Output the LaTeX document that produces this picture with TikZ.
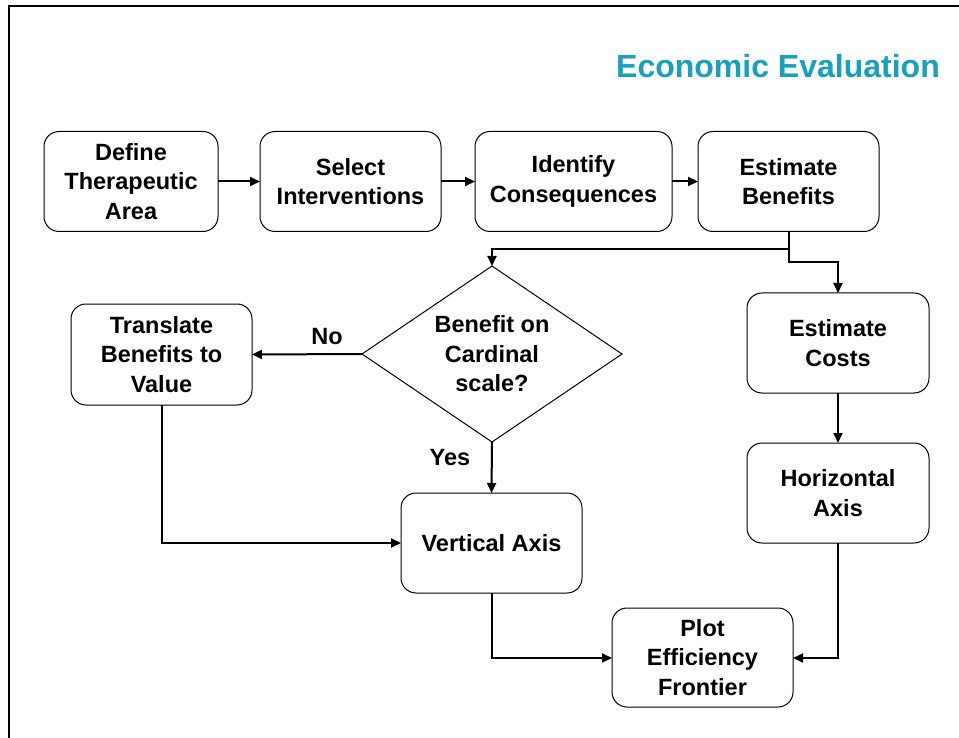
\documentclass[tikz,border=0pt]{standalone}
\usepackage{fontspec}
\setmainfont{Liberation Sans}
\usetikzlibrary{shapes.geometric,arrows.meta}
\definecolor{titleteal}{RGB}{23,160,192}
\begin{document}
\begin{tikzpicture}[x=1pt,y=-1pt,
  box/.style={draw=black,line width=1pt,rounded corners=15pt,align=center,
    inner sep=0pt,outer sep=0pt,minimum height=100pt,
    font=\bfseries\fontsize{23.5}{29.5}\selectfont},
  decision/.style={draw=black,line width=1pt,shape=diamond,aspect=1.48,
    inner sep=0pt,outer sep=0pt,minimum width=260pt,minimum height=176pt,align=center,
    font=\bfseries\fontsize{23.5}{29.5}\selectfont},
  conn/.style={line width=2pt,-{Triangle[length=10pt,width=9pt]}},
  lbl/.style={font=\bfseries\fontsize{23.5}{28}\selectfont,inner sep=0pt}]
\useasboundingbox (0,0) rectangle (959,738);
\fill[white] (0,0) rectangle (959,738);
\draw[line width=2pt] (9,738) -- (9,6) -- (959,6);

\node[font=\bfseries\fontsize{32}{38}\selectfont,text=titleteal] (title) at (778,66) {Economic Evaluation};

\node[box,minimum width=174pt] (def) at (131,181.5) {Define\\Therapeutic\\Area};
\node[box,minimum width=181pt] (sel) at (350.5,181.5) {Select\\Interventions};
\node[box,minimum width=197pt] (ide) at (573.5,181.5) {Identify\\Consequences};
\node[box,minimum width=181pt] (eben) at (788.5,181.5) {Estimate\\Benefits};

\node[decision] (dia) at (492,354) {Benefit on\\Cardinal\\scale?};
\node[box,minimum width=181pt,minimum height=101pt] (trans) at (161.5,354.5) {Translate\\Benefits to\\Value};
\node[box,minimum width=182pt] (ecost) at (838,343) {Estimate\\Costs};
\node[box,minimum width=182pt] (hax) at (838,493) {Horizontal\\Axis};
\node[box,minimum width=181pt] (vax) at (491.5,543) {Vertical Axis};
\node[box,minimum width=181pt,minimum height=99pt] (plot) at (702.5,657.5) {Plot\\Efficiency\\Frontier};

\coordinate (split) at (789,249);

\draw[conn] (def) -- (sel);
\draw[conn] (sel) -- (ide);
\draw[conn] (ide) -- (eben);
\draw[line width=2pt] (eben.south -| split) -- (split);
\draw[conn] (split) -- (492,249) -- (dia.north);
\draw[conn] (split) -- (789,262) -- (838,262) -- (ecost.north);
\draw[conn] (dia.west) -- (trans.east);
\draw[conn] (dia.south) -- (vax.north);
\draw[conn] (trans.south) -- (161.5,543) -- (vax.west);
\draw[conn] (ecost.south) -- (hax.north);
\draw[conn] (vax.south) -- (491.5,658) -- (plot.west |- 0,658);
\draw[conn] (hax.south) -- (838,658) -- (plot.east |- 0,658);

\node[lbl] (no) at (327,337) {No};
\node[lbl] (yes) at (450,458) {Yes};
\end{tikzpicture}
\end{document}
